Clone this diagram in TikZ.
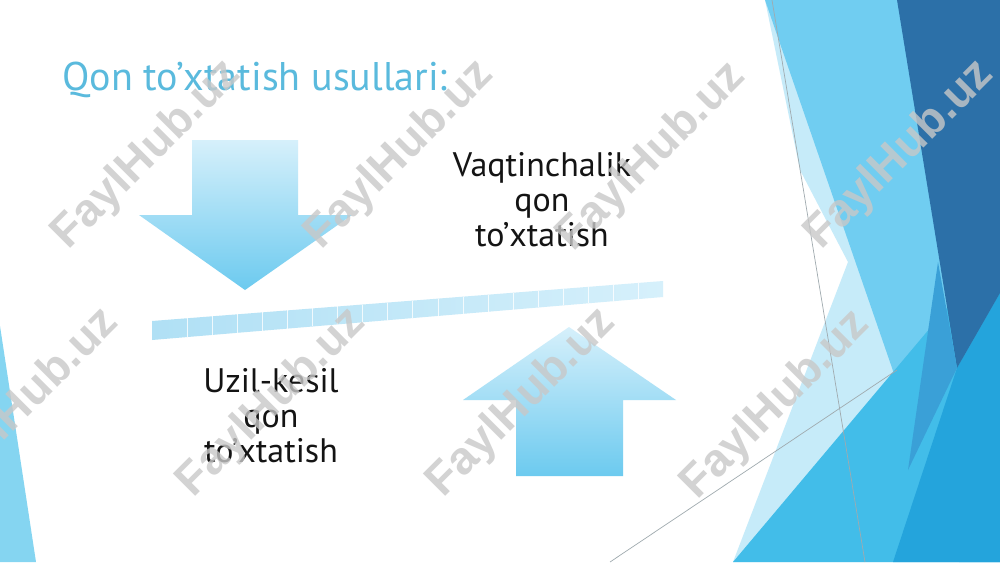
\documentclass[tikz,border=0pt]{standalone}
\usepackage{fontspec}
\setmainfont{PT Sans}
\newfontfamily\wmfont{Liberation Sans}
\definecolor{titleblue}{RGB}{90,186,221}
\definecolor{arrtop}{RGB}{214,240,251}
\definecolor{arrbot}{RGB}{108,202,239}
\definecolor{barL}{RGB}{176,224,245}
\definecolor{barR}{RGB}{214,240,251}
\definecolor{facetpale}{RGB}{198,235,249}
\definecolor{facetlight}{RGB}{112,205,241}
\definecolor{facetbright}{RGB}{66,189,233}
\definecolor{facetdeep}{RGB}{36,164,220}
\definecolor{facetdark}{RGB}{44,112,168}
\definecolor{facetmid}{RGB}{58,160,215}
\definecolor{facetline}{RGB}{160,170,175}
\definecolor{leftstrip}{RGB}{133,213,241}
\definecolor{wmgray}{RGB}{200,200,200}
\begin{document}
\begin{tikzpicture}[x=1pt,y=-1pt,
  arrowshape/.style={top color=arrtop,bottom color=arrbot,draw=none},
  thinline/.style={draw=facetline,line width=0.7pt},
  sepline/.style={draw=white,line width=1pt,opacity=0.8},
  body/.style={font=\fontsize{34}{35}\selectfont,align=center,inner sep=0pt,text=black!92},
  titletext/.style={font=\fontsize{40}{42}\selectfont,text=titleblue,inner sep=0pt},
  wm/.style={font=\wmfont\bfseries\fontsize{46}{46}\selectfont,text=wmgray,rotate=45,opacity=0.8,inner sep=0pt}]
\useasboundingbox (0,0) rectangle (1000,562);
\fill[white] (0,0) rectangle (1000,562);
% facets on the right
\fill[facetpale] (765,0) -- (1000,0) -- (1000,562) -- (733,562) -- (848,262) -- (800,170) -- cycle;
\fill[facetlight] (765,0) -- (1000,0) -- (1000,562) -- (959,562) -- cycle;
\fill[facetbright] (733,562) -- (1000,245) -- (1000,562) -- cycle;
\fill[facetdeep] (957,368) -- (1000,293) -- (1000,562) -- (893,562) -- cycle;
\fill[facetdark] (897,0) -- (1000,0) -- (1000,293) -- (957,368) -- cycle;
\fill[facetmid] (938,262) -- (957,368) -- (908,470) -- cycle;
\draw[thinline] (772,0) -- (865,562);
\draw[thinline] (610,562) -- (897,370);
% left strip
\fill[leftstrip] (0,326) -- (36,562) -- (0,562) -- cycle;
% title
\node[titletext,anchor=base west] (title) at (62,90) {Qon to’xtatish usullari:};
% down arrow
\path[arrowshape] (192,140) -- (298,140) -- (298,215) -- (352,215) -- (245,290) -- (139,215) -- (192,215) -- cycle;
% up arrow
\path[arrowshape] (569,327) -- (676,400) -- (623,400) -- (623,476) -- (516,476) -- (516,400) -- (463,400) -- cycle;
% bar
\shade[left color=barL,right color=barR] (152,321) -- (663,281) -- (663,297) -- (152,340) -- cycle;
\foreach \k in {0,...,18} {
  \pgfmathsetmacro{\xx}{187+25.1*\k}
  \pgfmathsetmacro{\yt}{321-(\xx-152)/511*40}
  \pgfmathsetmacro{\yb}{340-(\xx-152)/511*43}
  \draw[sepline] (\xx,\yt) -- (\xx,\yb);
}
% texts
\node[body] (temp) at (542,200) {Vaqtinchalik\\qon\\to’xtatish};
\node[body] (perm) at (271,416) {Uzil-kesil\\qon\\to’xtatish};
% watermarks
\node[wm] (w1) at (147,155) {FaylHub.uz};
\node[wm] (w2) at (400,155) {FaylHub.uz};
\node[wm] (w3) at (652,157) {FaylHub.uz};
\node[wm] (w4) at (900,155) {FaylHub.uz};
\node[wm] (w5) at (25,403) {FaylHub.uz};
\node[wm] (w6) at (272,403) {FaylHub.uz};
\node[wm] (w7) at (522,403) {FaylHub.uz};
\node[wm] (w8) at (776,405) {FaylHub.uz};
\end{tikzpicture}
\end{document}
